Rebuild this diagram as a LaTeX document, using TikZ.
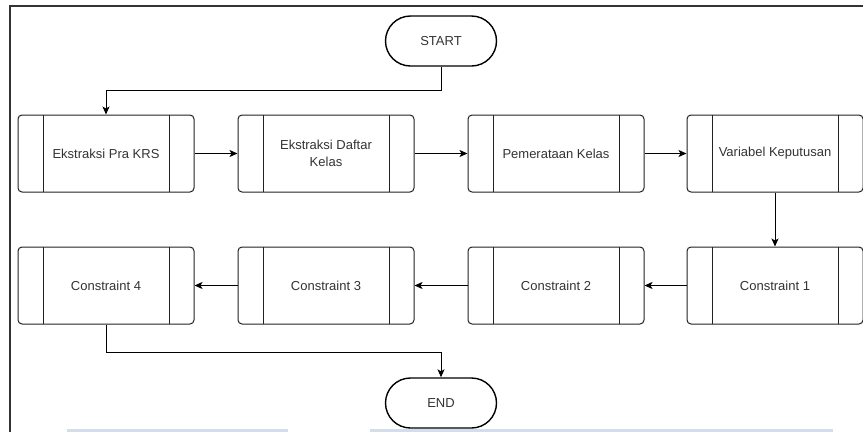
\documentclass[tikz,border=0pt]{standalone}
\usepackage{fontspec}
\setmainfont{Liberation Sans}
\usetikzlibrary{arrows.meta}
\definecolor{txt}{HTML}{333333}
\definecolor{edge}{HTML}{222222}
\definecolor{framec}{HTML}{333333}
\definecolor{pagebar}{HTML}{D3DEEA}

\begin{document}
\begin{tikzpicture}[x=1pt,y=-1pt,
  proc/.style={draw=edge, line width=1pt, rounded corners=4pt,
    minimum width=176pt, minimum height=77pt, inner sep=0pt,
    align=center, text=txt, font=\fontsize{13}{17}\selectfont,
    path picture={
      \draw[edge, line width=1pt, sharp corners]
        ([xshift=25pt]path picture bounding box.north west) --
        ([xshift=25pt]path picture bounding box.south west)
        ([xshift=-25pt]path picture bounding box.north east) --
        ([xshift=-25pt]path picture bounding box.south east);
    }},
  term/.style={draw=black, line width=1.4pt, rounded corners=25pt,
    minimum width=111pt, minimum height=50pt, inner sep=0pt,
    text=txt, font=\fontsize{13}{16}\selectfont},
  flow/.style={draw=black, line width=1pt,
    -{Stealth[length=8pt,width=7pt,inset=2pt]}}
]
\useasboundingbox (0,0) rectangle (863,432);

% page frame and strips along the lower edge
\draw[framec, line width=1.3pt] (10,432) -- (10,6) -- (863,6);
\fill[pagebar] (67,429) rectangle (288,432);
\fill[pagebar] (370,429) rectangle (833,432);

% terminals
\node[term] (start) at (441,41) {START};
\node[term] (end) at (441,403) {END};

% first row of processes
\node[proc] (b1) at (106,153.5) {Ekstraksi Pra KRS};
\node[proc] (b2) at (326,153.5) {Ekstraksi Daftar\\Kelas};
\node[proc] (b3) at (556,153.5) {Pemerataan Kelas};
\node[proc] (b4) at (775,153.5) {Variabel Keputusan};

% second row of processes
\node[proc] (c1) at (775,285.5) {Constraint 1};
\node[proc] (c2) at (556,285.5) {Constraint 2};
\node[proc] (c3) at (326,285.5) {Constraint 3};
\node[proc] (c4) at (106,285.5) {Constraint 4};

% connectors
\draw[flow] (start.south) -- ++(0,24) -| (b1.north);
\draw[flow] (b1) -- (b2);
\draw[flow] (b2) -- (b3);
\draw[flow] (b3) -- (b4);
\draw[flow] (b4) -- (c1);
\draw[flow] (c1) -- (c2);
\draw[flow] (c2) -- (c3);
\draw[flow] (c3) -- (c4);
\draw[flow] (c4.south) -- ++(0,28) -| (end.north);
\end{tikzpicture}
\end{document}
